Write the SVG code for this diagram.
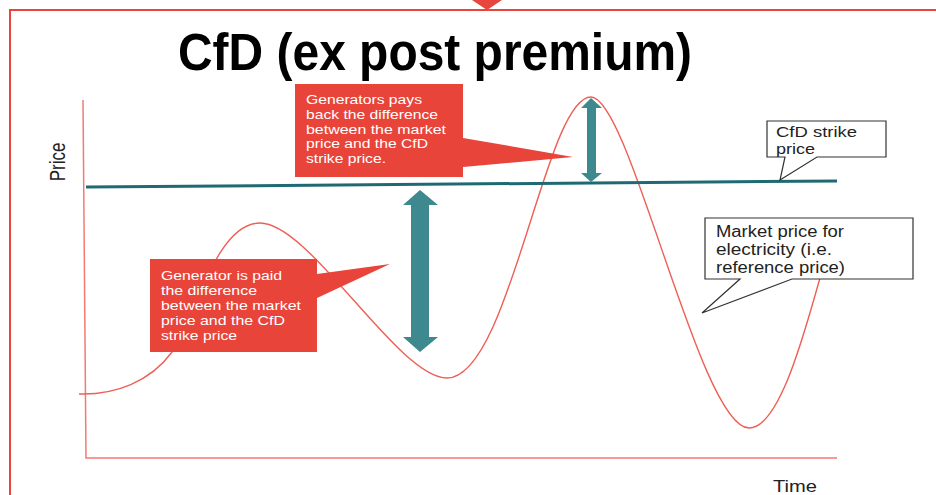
<svg xmlns="http://www.w3.org/2000/svg" width="936" height="495" viewBox="0 0 936 495">
  <style>
    .frame { fill: none; stroke: #e8453c; stroke-width: 2; }
    .axis { fill: none; stroke: #f27a72; stroke-width: 1.5; }
    .curve { fill: none; stroke: #ee5f55; stroke-width: 1.4; }
    .strike { fill: none; stroke: #1f6a72; stroke-width: 3; }
    .arrow { fill: #3d898f; }
    .callout-red { fill: #e8443a; }
    .callout-white { fill: #ffffff; stroke: #333333; stroke-width: 1.2; }
    .title { font-family: "Liberation Sans", Arial, sans-serif; font-weight: bold; font-size: 51px; fill: #000000; }
    .wtxt { font-family: "Liberation Sans", Arial, sans-serif; font-size: 13px; fill: #ffffff; }
    .btxt { font-family: "Liberation Sans", Arial, sans-serif; fill: #222222; }
  </style>

  <rect x="0" y="0" width="936" height="495" fill="#ffffff"/>

  <g id="frame">
    <path class="frame" d="M10 495 V10 H936"/>
    <polygon points="472,0 502,0 487,10" fill="#e8453c"/>
  </g>

  <g id="title">
    <text class="title" x="178" y="70" textLength="514" lengthAdjust="spacingAndGlyphs">CfD (ex post premium)</text>
  </g>

  <g id="axes">
    <path class="axis" d="M83 100 L86 458 L837 458"/>
    <text class="btxt" font-size="17" transform="translate(65,162) rotate(-90) scale(1,1.35)" text-anchor="middle">Price</text>
    <text class="btxt" font-size="17" x="773" y="492" textLength="44" lengthAdjust="spacingAndGlyphs">Time</text>
  </g>

  <g id="connectors">
    <path id="market-curve" class="curve" d="M79 394 C115 395, 150 382, 172 352 C194 322, 215 223, 260 223 C310 223, 398 378, 447 378 C510 378, 545 97, 591 97 C630 97, 700 428, 749 428 C780 428, 805 330, 820 278"/>
    <path id="strike-line" class="strike" d="M86 187 L837 181"/>
  </g>

  <g id="arrow-big">
    <polygon class="arrow" points="420,190 438,205 429,205 429,337 438,337 420,352 403,337 411,337 411,205 403,205"/>
  </g>

  <g id="arrow-small">
    <polygon class="arrow" points="591,98 602,108 596,108 596,173 602,173 591,182 581,173 587,173 587,108 581,108"/>
  </g>

  <g id="callout-payback">
    <path class="callout-red" d="M295 84 H463 V138 L573 157 L463 167 V177 H295 Z"/>
    <text class="wtxt" x="306" y="104" textLength="116" lengthAdjust="spacingAndGlyphs">Generators pays</text>
    <text class="wtxt" x="306" y="119" textLength="132" lengthAdjust="spacingAndGlyphs">back the difference</text>
    <text class="wtxt" x="306" y="134" textLength="140" lengthAdjust="spacingAndGlyphs">between the market</text>
    <text class="wtxt" x="306" y="148" textLength="122" lengthAdjust="spacingAndGlyphs">price and the CfD</text>
    <text class="wtxt" x="306" y="163" textLength="80" lengthAdjust="spacingAndGlyphs">strike price.</text>
  </g>

  <g id="callout-paid">
    <path class="callout-red" d="M150 259 H317 V274 L390 264 L317 298 V352 H150 Z"/>
    <text class="wtxt" x="161" y="280" textLength="121" lengthAdjust="spacingAndGlyphs">Generator is paid</text>
    <text class="wtxt" x="161" y="295" textLength="96" lengthAdjust="spacingAndGlyphs">the difference</text>
    <text class="wtxt" x="161" y="310" textLength="140" lengthAdjust="spacingAndGlyphs">between the market</text>
    <text class="wtxt" x="161" y="325" textLength="124" lengthAdjust="spacingAndGlyphs">price and the CfD</text>
    <text class="wtxt" x="161" y="340" textLength="76" lengthAdjust="spacingAndGlyphs">strike price</text>
  </g>

  <g id="callout-strike">
    <path class="callout-white" d="M767 121 H886 V157 H817 L780 180 L785 157 H767 Z"/>
    <text class="btxt" font-size="15" x="776" y="137" textLength="81" lengthAdjust="spacingAndGlyphs">CfD strike</text>
    <text class="btxt" font-size="15" x="776" y="154" textLength="39" lengthAdjust="spacingAndGlyphs">price</text>
  </g>

  <g id="callout-market">
    <path class="callout-white" d="M705 218 H913 V279 H792 L702 313 L740 279 H705 Z"/>
    <text class="btxt" font-size="16" x="716" y="237" textLength="128" lengthAdjust="spacingAndGlyphs">Market price for</text>
    <text class="btxt" font-size="16" x="716" y="255" textLength="116" lengthAdjust="spacingAndGlyphs">electricity (i.e.</text>
    <text class="btxt" font-size="16" x="716" y="273" textLength="129" lengthAdjust="spacingAndGlyphs">reference price)</text>
  </g>
</svg>
